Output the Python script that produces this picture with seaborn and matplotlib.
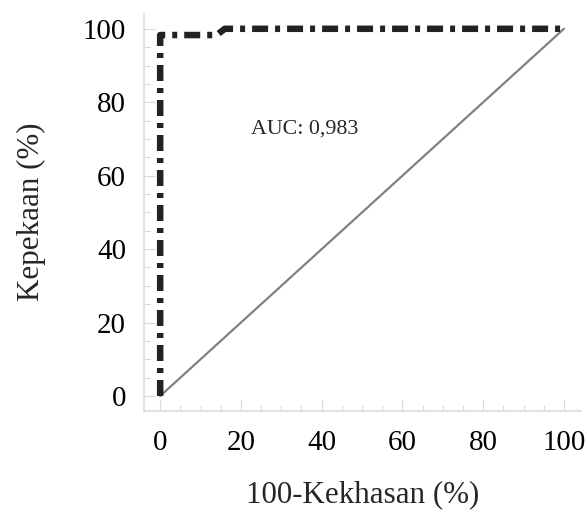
import seaborn as sns
import pandas as pd
import numpy as np
import matplotlib.pyplot as plt
import matplotlib.ticker as ticker

# ROC curve points (100-specificity, sensitivity)
fpr = [0, 0, 14, 16, 100]
tpr = [0, 98.3, 98.3, 100, 100]
ref_x = [0, 100]
ref_y = [0, 100]
auc_text = "AUC: 0,983"

sns.set_theme(style="white")
plt.rcParams['font.family'] = ['Liberation Serif', 'DejaVu Serif']

fig = plt.figure(figsize=(585 / 72, 510 / 72), dpi=72)
ax = fig.add_axes([0.2462, 0.194, 0.7468, 0.7805])

roc = pd.DataFrame({'x': fpr, 'y': tpr})
diag = pd.DataFrame({'x': ref_x, 'y': ref_y})

sns.lineplot(data=diag, x='x', y='y', sort=False, estimator=None,
             color='#808080', linewidth=2.2, ax=ax)
sns.lineplot(data=roc, x='x', y='y', sort=False, estimator=None,
             color='#222222', linewidth=6.5, ax=ax)
line = ax.lines[-1]
line.set_dashes([16 / 6.5, 7 / 6.5, 5 / 6.5, 7 / 6.5])
line.set_dash_capstyle('butt')
line.set_solid_joinstyle('miter')

ax.text(22.5, 72.8, auc_text, fontsize=22, va='center', ha='left')

ax.set_xlim(-4, 104.2)
ax.set_ylim(-4.1, 104.3)
ax.xaxis.set_minor_locator(ticker.MultipleLocator(5))
ax.yaxis.set_minor_locator(ticker.MultipleLocator(5))
ax.set_xticks([0, 20, 40, 60, 80, 100])
ax.set_yticks([0, 20, 40, 60, 80, 100])

for s in ['top', 'right']:
    ax.spines[s].set_visible(False)
for s in ['left', 'bottom']:
    ax.spines[s].set_color('#d9d9d9')
    ax.spines[s].set_linewidth(1.5)

ax.tick_params(which='major', direction='in', length=11, width=1.2,
               color='#d9d9d9', labelsize=29, labelcolor='black')
ax.tick_params(which='minor', direction='in', length=6, width=1.2,
               color='#d9d9d9')
ax.tick_params(axis='x', which='major', pad=19)
ax.tick_params(axis='y', which='major', pad=18)
ax.tick_params(left=True, bottom=True, which='both')

ax.set_xlabel("100-Kekhasan (%)", fontsize=31, labelpad=24)
ax.set_ylabel("Kepekaan (%)", fontsize=31, labelpad=37)
ax.grid(False)

fig.savefig("out.png", dpi=72)
